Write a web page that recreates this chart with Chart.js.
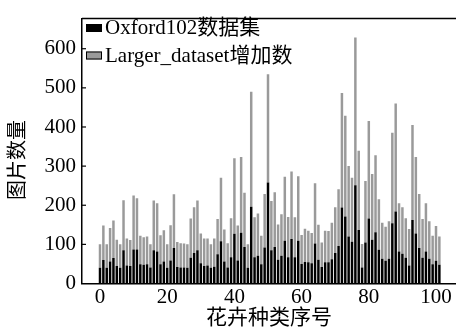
<!DOCTYPE html>
<html><head><meta charset="utf-8">
<script src="https://cdn.jsdelivr.net/npm/chart.js@4.4.0/dist/chart.umd.min.js"></script>
<style>html,body{margin:0;padding:0;background:#fff;}#wrap{width:456px;height:334px;position:relative;}</style>
</head><body><div id="wrap"><canvas id="c"></canvas></div>
<script>
const categories = [0,1,2,3,4,5,6,7,8,9,10,11,12,13,14,15,16,17,18,19,20,21,22,23,24,25,26,27,28,29,30,31,32,33,34,35,36,37,38,39,40,41,42,43,44,45,46,47,48,49,50,51,52,53,54,55,56,57,58,59,60,61,62,63,64,65,66,67,68,69,70,71,72,73,74,75,76,77,78,79,80,81,82,83,84,85,86,87,88,89,90,91,92,93,94,95,96,97,98,99,100,101];
const oxford102 = [40,60,40,56,65,45,40,85,46,45,87,87,49,48,49,41,85,82,49,56,40,59,91,42,41,41,40,66,78,85,52,45,46,40,43,75,108,56,41,67,127,59,130,93,40,196,67,71,49,92,258,85,93,61,71,109,67,114,67,109,50,55,54,52,102,61,42,54,54,62,78,96,194,171,120,107,251,137,41,105,166,112,131,86,63,58,63,154,184,82,76,66,46,162,128,91,66,82,63,49,58,48];
const largerAdded = [60,88,60,86,96,67,60,128,69,66,138,131,73,70,71,59,127,123,74,80,60,90,137,64,62,61,60,100,117,127,76,70,69,60,72,90,162,82,62,100,193,89,193,139,60,294,102,108,73,137,277,126,140,90,106,164,103,172,102,165,74,85,81,77,154,89,63,81,80,93,117,145,293,258,180,163,378,202,60,157,249,168,197,129,92,87,96,231,276,123,119,101,93,243,195,138,99,123,96,73,89,72];
const xTicks = [0,20,40,60,80,100];
const yTicks = [0,100,200,300,400,500,600];
const seriesNames = ['Oxford102数据集','Larger_dataset增加数'];
const xTitle = '花卉种类序号';
const yTitle = '图片数量';

const FONT = '"Liberation Serif","Times New Roman","Noto Sans CJK SC",serif';

const frameAndLegend = {
  id: 'frameAndLegend',
  afterDatasetsDraw(chart) {
    const {ctx, chartArea: a, scales: {y}} = chart;
    ctx.save();
    ctx.strokeStyle = '#000';
    ctx.lineWidth = 1.5;
    ctx.beginPath();
    ctx.moveTo(a.left, a.top); ctx.lineTo(a.right, a.top);
    ctx.stroke();
    ctx.lineWidth = 1.2;
    y.ticks.forEach(t => {
      const py = y.getPixelForValue(t.value);
      if (t.value === 0) return;
      ctx.beginPath(); ctx.moveTo(a.left, py); ctx.lineTo(a.left + 4, py); ctx.stroke();
    });
    const ds = chart.data.datasets;
    ctx.font = '21px ' + FONT;
    ctx.textBaseline = 'middle';
    ctx.textAlign = 'left';
    ds.forEach((d, i) => {
      const by = 24 + i * 27.5;
      ctx.fillStyle = d.backgroundColor;
      ctx.fillRect(86, by, 16, 8);
      ctx.lineWidth = 1;
      ctx.strokeStyle = '#000';
      ctx.strokeRect(86.5, by + 0.5, 15, 7);
      ctx.fillStyle = '#000';
      ctx.fillText(d.label, 105, by + 4.5);
    });
    // y axis title, slightly below the plot centre as in the reference
    ctx.translate(19, (a.top + a.bottom) / 2 + 9);
    ctx.rotate(-Math.PI / 2);
    ctx.textAlign = 'center';
    ctx.font = '20px ' + FONT;
    ctx.fillText(yTitle, 0, 0);
    ctx.restore();
  }
};

new Chart(document.getElementById('c'), {
  type: 'bar',
  data: {
    datasets: [
      { label: seriesNames[0], data: categories.map((c, i) => ({x: c, y: oxford102[i]})), backgroundColor: '#000000', stack: 's' },
      { label: seriesNames[1], data: categories.map((c, i) => ({x: c, y: largerAdded[i]})), backgroundColor: '#9a9a9a', stack: 's' }
    ]
  },
  options: {
    responsive: true,
    maintainAspectRatio: false,
    animation: false,
    layout: { padding: { top: 13, right: 0, left: 0, bottom: 0 } },
    datasets: { bar: { barPercentage: 0.74, categoryPercentage: 1, borderWidth: 0 } },
    plugins: { legend: { display: false }, tooltip: { enabled: false } },
    scales: {
      x: {
        type: 'linear', stacked: true, min: -5.36, max: 105.95, offset: false,
        grid: { display: false, drawTicks: false },
        border: { display: true, color: '#000', width: 1.5 },
        afterBuildTicks: s => { s.ticks = xTicks.map(v => ({value: v})); },
        afterFit: s => { s.height = 50.5; },
        ticks: { color: '#000', font: { family: FONT, size: 21 }, padding: 1, maxRotation: 0, autoSkip: false },
        title: { display: true, text: xTitle, color: '#000', font: { family: FONT, size: 21 }, padding: { top: 0, bottom: 3 } }
      },
      y: {
        stacked: true, min: 0, max: 677,
        grid: { display: false, drawTicks: false },
        border: { display: true, color: '#000', width: 1.5 },
        afterBuildTicks: s => { s.ticks = yTicks.map(v => ({value: v})); },
        afterFit: s => { s.width = 82; },
        ticks: { color: '#000', font: { family: FONT, size: 21 }, padding: 6 },
        title: { display: false }
      }
    }
  },
  plugins: [frameAndLegend]
});
</script>
</body></html>
